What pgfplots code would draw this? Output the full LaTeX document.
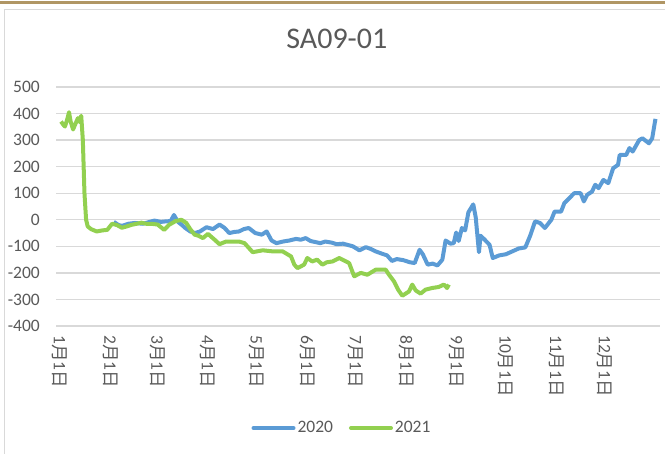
\documentclass[border=0pt]{standalone}
\usepackage{fontspec}
\setmainfont{Carlito}
\newfontfamily\cjk{Noto Sans CJK SC}
\usepackage{pgfplots}
\pgfplotsset{compat=1.18}
\definecolor{c20}{HTML}{5B9BD5}
\definecolor{c21}{HTML}{92D050}
\definecolor{gridc}{HTML}{D9D9D9}
\definecolor{txt}{HTML}{595959}
\definecolor{gold}{RGB}{176,150,100}
\newcommand\md[1]{#1{\cjk 月}1{\cjk 日}}
\begin{document}
\begin{tikzpicture}
\path[use as bounding box] (0,0) rectangle (665bp,454bp);
\draw[gold, line width=2.5bp] (0,451.3bp) -- (665bp,451.3bp);
\draw[gridc, line width=1bp] (4.5bp,0) -- (4.5bp,444.7bp) -- (665bp,444.7bp);
\begin{axis}[
  at={(56bp,128bp)}, anchor=south west, scale only axis,
  width=604bp, height=239bp,
  xmin=-2.5, xmax=368.8, ymin=-400, ymax=500,
  ytick={-400,-300,-200,-100,0,100,200,300,400,500},
  yticklabels={-400,-300,-200,-100,0,100,200,300,400,500},
  xtick={0,31,60,91,121,152,182,213,244,274,305,335},
  xticklabels={\md{1},\md{2},\md{3},\md{4},\md{5},\md{6},\md{7},\md{8},\md{9},\md{10},\md{11},\md{12}},
  ymajorgrids, major grid style={gridc, line width=1.3bp},
  axis line style={draw=none}, major tick length=0pt,
  ticklabel style={font=\fontsize{17.5bp}{19bp}\selectfont, text=txt},
  yticklabel style={anchor=east, inner sep=0pt},
  yticklabel shift=16bp,
  xticklabel style={rotate=-90, anchor=west, inner sep=0pt},
  xticklabel shift=9bp,
  title={SA09-01},
  title style={font=\fontsize{30bp}{34bp}\selectfont, text=txt, at={(0.465,1)}, anchor=center, yshift=42bp},
  legend style={at={(0.4735,-0.427)}, anchor=center, draw=none, fill=none,
    legend columns=2, font=\fontsize{17.5bp}{19bp}\selectfont, text=txt,
    /tikz/every even column/.append style={column sep=14bp}},
  legend image code/.code={\draw[#1, line width=4bp, line cap=round] (0bp,0bp) -- (40bp,0bp);},
]
\addplot[c20, line width=4bp, line join=round, mark=none] table {
33 -8
36 -20
38 -23
42 -15
46 -12
51 -15
55 -8
58 -3
62 -8
65 -6
68 -5
70 18
72.5 -8
75 -20
77 -31
80 -44
83 -50
86 -44
90 -28
94 -35
98 -18
101 -30
104 -50
107 -46
110 -44
113 -35
116 -31
120 -50
124 -56
127 -44
130 -78
133 -88
137 -82
141 -78
145 -72
148 -75
151 -69
154 -80
157 -84
160 -88
163 -82
167 -86
170 -92
174 -90
177 -95
180 -100
184 -115
188 -103
191 -110
194 -119
198 -128
201 -134
204 -155
207 -148
211 -152
215 -160
218 -163
221 -113
223 -130
226 -169
229 -165
232 -172
235 -150
237 -78
240 -90
242 -88
243.5 -48
245 -80
247 -31
249 -40
251 28
254 58
255.5 10
257.5 -122
258.5 -60
261 -75
264 -94
266 -144
270 -134
274 -130
282 -108
286 -104
289 -60
292 -6
295 -12
298 -31
302 0
304 31
308 31
310 63
313 81
316 100
320 100
322 69
324 94
327 106
329 132
331 119
334 150
337 138
340 194
343 207
344 244
348 244
350 270
352 257
356 300
358 307
362 288
364 307
366 380
};
\addlegendentry{2020}
\addplot[c21, line width=4bp, line join=round, mark=none] table {
0.6 370
2 358
3 351
4.5 380
5.5 405
6.5 370
8 340
9.5 362
11 383
12 368
13 392
14 300
15 100
16 0
17 -25
19 -35
22.5 -44
26 -40
29 -38
32 -15
35 -20
38 -30
41 -25
44 -19
47 -15
50 -11
53 -15
56 -15
60 -18
64 -38
67 -19
71 -5
74.6 0
77.6 -12
80 -35
82.7 -56
85 -60
87.8 -69
90.9 -53
95 -75
98 -92
102 -82
106 -82
110 -82
113.4 -88
118.4 -122
124.6 -115
130.7 -119
136.8 -119
142 -138
144 -169
146 -182
150 -169
152 -144
155 -157
158 -150
161.3 -169
164 -160
167.5 -157
171.6 -144
177.7 -163
180.8 -213
184.9 -200
188.9 -207
194 -188
200.2 -188
202.2 -207
205.3 -232
208 -265
210.4 -286
214.5 -270
216.5 -244
218.6 -266
221.6 -278
224.7 -263
228.7 -257
232.8 -253
235.9 -244
237.9 -257
239 -244
};
\addlegendentry{2021}
\end{axis}
\end{tikzpicture}
\end{document}
